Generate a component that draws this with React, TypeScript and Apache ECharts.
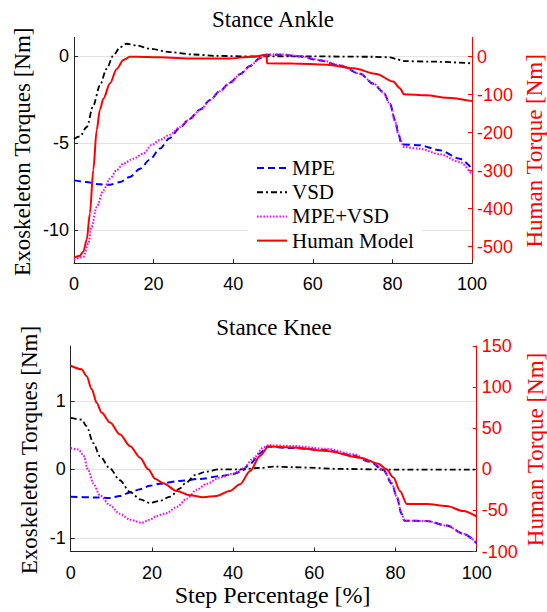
import React, { useEffect, useRef } from 'react';
import * as echarts from 'echarts';

// ---------- Stance Ankle (top) ----------
const ankleMpeX = [0, 3, 6.5, 9, 11.6, 14, 16.6, 19, 21.6, 24, 26.6, 29, 31.7, 34.2, 36.7, 39.2, 41.7, 44.2, 46.7, 48.4, 51.8, 56.8, 61.8, 66.8, 71.9, 75.2, 77.7, 79.4, 80.7, 81.5, 82.3, 86.9, 91.9, 96.9, 100];
const ankleMpeY = [-7.13, -7.22, -7.36, -7.38, -7.22, -6.93, -6.46, -5.95, -5.3, -4.7, -4.1, -3.6, -3.05, -2.5, -1.98, -1.5, -1.02, -0.55, -0.1, 0.1, 0.1, 0.0, -0.23, -0.52, -1.0, -1.57, -2.05, -2.72, -3.68, -4.44, -5.06, -5.11, -5.4, -5.88, -6.45];

const ankleVsdX = [0, 1.5, 3.2, 4.85, 6.5, 8.2, 9.9, 11.6, 13.2, 15.7, 19.1, 24.1, 30, 35.8, 45, 60, 75, 79.4, 81, 82.7, 90, 100];
const ankleVsdY = [-4.75, -4.6, -4.06, -2.82, -1.67, -0.71, 0.06, 0.53, 0.73, 0.63, 0.44, 0.25, 0.11, 0.03, 0.0, 0.0, -0.02, -0.05, -0.15, -0.27, -0.3, -0.4];

const ankleHybX = [0, 2.35, 3.6, 4.4, 5.7, 7.4, 9.05, 10.7, 12.4, 14.9, 17.4, 19.5, 21.6, 24.1, 26.6, 29.1, 31.7, 34.2, 36.7, 39.2, 41.7, 44.2, 46.7, 48.4, 51.8, 56.8, 61.8, 66.8, 71.9, 75.2, 77.7, 79.4, 80.7, 81.5, 82.9, 86.9, 91.9, 96.9, 100];
const ankleHybY = [-11.7, -11.53, -10.77, -9.81, -8.66, -7.7, -7.03, -6.55, -6.17, -5.88, -5.59, -5.1, -4.8, -4.5, -4.06, -3.6, -3.08, -2.5, -2.0, -1.52, -1.05, -0.56, -0.1, 0.1, 0.12, 0.02, -0.2, -0.5, -1.0, -1.55, -2.05, -2.75, -3.75, -4.5, -5.21, -5.31, -5.63, -6.07, -6.8];

const ankleHumX = [0, 1.5, 2.35, 3.2, 4.0, 4.85, 5.7, 6.5, 7.4, 9.05, 10.7, 12.4, 14.1, 16, 21.6, 30, 38.4, 45, 48.4, 48.5, 55, 63.5, 70.2, 76, 80.2, 81.9, 82.9, 88.6, 93.6, 100];
const ankleHumY = [-529, -524, -513, -482, -412, -298, -193, -140, -110, -70, -33, -8.7, 0, 0, -1.7, -5, -5, 0, 5, -17.5, -18, -21, -30.7, -45.5, -65.6, -83, -99, -101.7, -108, -117];

// ---------- Stance Knee (bottom) ----------
const kneeMpeX = [0, 5.6, 9.7, 12.1, 14.6, 17.1, 19.5, 22, 26.9, 31.9, 36.8, 40, 42, 44.2, 46.6, 48.3, 54.8, 63, 69.6, 73.7, 77, 79.1, 80.3, 81.5, 82.2, 87.7, 92.6, 96.7, 100];
const kneeMpeY = [-0.4, -0.41, -0.42, -0.39, -0.34, -0.29, -0.24, -0.21, -0.17, -0.14, -0.1, -0.07, -0.03, 0.08, 0.23, 0.33, 0.31, 0.28, 0.2, 0.11, -0.01, -0.21, -0.4, -0.65, -0.75, -0.755, -0.82, -0.94, -1.08];

const kneeVsdX = [0, 2.7, 3.9, 5.6, 7.2, 9.7, 12.1, 14.6, 17.1, 19.5, 22, 24.5, 26.9, 28.1, 30.8, 33.3, 36.8, 41.7, 46.6, 49.9, 54.8, 67.1, 80, 100];
const kneeVsdY = [0.75, 0.725, 0.63, 0.38, 0.19, 0.01, -0.16, -0.33, -0.44, -0.49, -0.46, -0.4, -0.28, -0.21, -0.08, -0.035, 0, 0, 0.02, 0.04, 0.03, 0.005, -0.005, -0.005];

const kneeHybX = [0, 1.9, 3.1, 4.3, 5.6, 7.2, 9.7, 12.1, 14.6, 17.5, 19.5, 21.2, 23.6, 26.1, 28.6, 31, 33.5, 36.8, 40.1, 42.6, 45, 47.5, 48.7, 54.8, 63, 69.6, 73.7, 77, 79.1, 80.3, 81.5, 82.2, 87.7, 92.6, 96.7, 100];
const kneeHybY = [0.31, 0.29, 0.21, -0.01, -0.21, -0.38, -0.525, -0.65, -0.735, -0.78, -0.735, -0.68, -0.64, -0.55, -0.43, -0.3, -0.21, -0.12, -0.06, 0.015, 0.16, 0.32, 0.35, 0.34, 0.3, 0.22, 0.12, 0.0, -0.2, -0.4, -0.65, -0.75, -0.755, -0.82, -0.94, -1.08];

const kneeHumX = [0, 2.7, 3.9, 5.2, 6.4, 7.6, 9.7, 12.1, 14.6, 17.1, 19.1, 20.8, 22.8, 26.1, 29.4, 32.7, 35.9, 39.2, 41.7, 44.2, 46.6, 48.7, 54.8, 63, 71.3, 75.8, 77.8, 79.5, 81.1, 82.8, 87.7, 92.6, 96.7, 100];
const kneeHumY = [126, 121.7, 113.5, 97.3, 81, 69, 56.8, 42.6, 28.4, 14.2, 0, -11.4, -17, -26.4, -31.6, -34, -32.4, -26.4, -18.2, -2, 16.2, 27.6, 26.4, 22.3, 14.2, 6.9, 0, -10, -26.4, -42.2, -42.2, -44.6, -50.7, -57.6];

// ---------- Axes ticks / labels ----------
const xTicks = [0, 20, 40, 60, 80, 100];
const ankleLeftTicks = [-10, -5, 0];
const ankleRightTicks = [-500, -400, -300, -200, -100, 0];
const kneeLeftTicks = [-1, 0, 1];
const legendNames = ['MPE', 'VSD', 'MPE+VSD', 'Human Model'];

const SERIF = '"Liberation Serif", serif';
const SANS = '"Liberation Sans", sans-serif';
const AX = '#262626';
const GRID = '#e3e3e3';

function pairs(xs: number[], ys: number[]) {
  return xs.map((x, i) => [x, ys[i]]);
}

const styles: Record<string, any> = {
  'MPE': { color: '#0000ff', width: 2, type: [7, 4] },
  'VSD': { color: '#000000', width: 1.8, type: [6, 3, 2, 3] },
  'MPE+VSD': { color: '#ff00ff', width: 2, type: [1.6, 1.6] },
  'Human Model': { color: '#ff0000', width: 2, type: 'solid' },
};

function line(name: string, data: number[][], xi: number, yi: number) {
  const s = styles[name];
  return {
    type: 'line',
    name,
    data,
    xAxisIndex: xi,
    yAxisIndex: yi,
    symbol: 'none',
    smooth: 0.3,
    smoothMonotone: 'x',
    color: s.color,
    lineStyle: { color: s.color, width: s.width, type: s.type },
    silent: true,
  };
}

function xAxis(gridIndex: number) {
  return {
    type: 'value',
    gridIndex,
    min: 0,
    max: 100,
    interval: 20,
    axisLine: { show: true, onZero: false, lineStyle: { color: AX, width: 1 } },
    axisTick: { show: true, inside: true, length: 4, lineStyle: { color: AX } },
    axisLabel: { color: '#000', fontFamily: SANS, fontSize: 18, margin: 12, customValues: xTicks },
    splitLine: { show: false },
  };
}

function leftAxis(gridIndex: number, min: number, max: number, ticks: number[]) {
  return {
    type: 'value',
    gridIndex,
    position: 'left',
    min,
    max,
    axisLine: { show: true, onZero: false, lineStyle: { color: AX, width: 1 } },
    axisTick: { show: true, inside: true, length: 4, lineStyle: { color: AX }, customValues: ticks },
    axisLabel: { color: '#000', fontFamily: SANS, fontSize: 18, margin: 5, customValues: ticks },
    splitLine: { show: true, lineStyle: { color: GRID, width: 1 } },
  };
}

function rightAxis(gridIndex: number, min: number, max: number, ticks: number[] | null, interval?: number) {
  const a: any = {
    type: 'value',
    gridIndex,
    position: 'right',
    min,
    max,
    axisLine: { show: true, onZero: false, lineStyle: { color: '#ff0000', width: 1 } },
    axisTick: { show: true, inside: true, length: 4, lineStyle: { color: '#ff0000' } },
    axisLabel: { color: '#ff0000', fontFamily: SANS, fontSize: 18, margin: 5 },
    splitLine: { show: false },
  };
  if (ticks) {
    a.axisTick.customValues = ticks;
    a.axisLabel.customValues = ticks;
  }
  if (interval) a.interval = interval;
  return a;
}

function txt(text: string, x: number, y: number, size: number, color: string, rot = 0) {
  return {
    type: 'text',
    x,
    y,
    rotation: rot,
    silent: true,
    style: {
      text,
      fill: color,
      fontFamily: SERIF,
      fontSize: size,
      align: 'center',
      verticalAlign: 'middle',
    },
  };
}

export default function App() {
  const ref = useRef<HTMLDivElement>(null);
  useEffect(() => {
    if (!ref.current) return;
    const chart = echarts.init(ref.current, null, { renderer: 'svg' });
    const R = Math.PI / 2;
    const legendText = { fontFamily: SERIF, fontSize: 21, color: '#000', lineHeight: 24 };
    const option: any = {
      animation: false,
      backgroundColor: '#ffffff',
      textStyle: { fontFamily: SERIF },
      grid: [
        { left: 74, top: 37.3, width: 398, height: 226, containLabel: false },
        { left: 70.7, top: 346, width: 406, height: 205.5, containLabel: false },
      ],
      xAxis: [xAxis(0), xAxis(1)],
      yAxis: [
        leftAxis(0, -11.9, 1.1, ankleLeftTicks),
        rightAxis(0, -544, 51, ankleRightTicks),
        leftAxis(1, -1.2, 1.8, kneeLeftTicks),
        rightAxis(1, -100, 150, null, 50),
      ],
      legend: {
        data: legendNames.map((n) => ({ name: n, textStyle: legendText })),
        orient: 'vertical',
        left: 248,
        top: 151,
        padding: [5, 8, 5, 8],
        backgroundColor: '#ffffff',
        itemWidth: 30,
        itemHeight: 12,
        itemGap: 0.2,
        selectedMode: false,
        itemStyle: { opacity: 0 },
        textStyle: legendText,
      },
      graphic: [
        txt('Stance Ankle', 273, 19.5, 23, '#000'),
        txt('Stance Knee', 274, 327.5, 23, '#000'),
        txt('Exoskeleton Torques [Nm]', 22.5, 151.7, 23, '#000', R),
        txt('Human Torque [Nm]', 534, 150.8, 23, '#ff0000', R),
        txt('Exoskeleton Torques [Nm]', 29, 450, 23, '#000', R),
        txt('Human Torque [Nm]', 535, 449.5, 23, '#ff0000', R),
        txt('Step Percentage [%]', 272.6, 595, 24, '#000'),
      ],
      series: [
        line('MPE', pairs(ankleMpeX, ankleMpeY), 0, 0),
        line('VSD', pairs(ankleVsdX, ankleVsdY), 0, 0),
        line('MPE+VSD', pairs(ankleHybX, ankleHybY), 0, 0),
        line('Human Model', pairs(ankleHumX, ankleHumY), 0, 1),
        line('MPE', pairs(kneeMpeX, kneeMpeY), 1, 2),
        line('VSD', pairs(kneeVsdX, kneeVsdY), 1, 2),
        line('MPE+VSD', pairs(kneeHybX, kneeHybY), 1, 2),
        line('Human Model', pairs(kneeHumX, kneeHumY), 1, 3),
      ],
    };
    chart.setOption(option);
    return () => chart.dispose();
  }, []);
  return (
    <div
      ref={ref}
      style={{ position: 'fixed', left: 0, top: 0, width: 547, height: 612, background: '#fff' }}
    />
  );
}
